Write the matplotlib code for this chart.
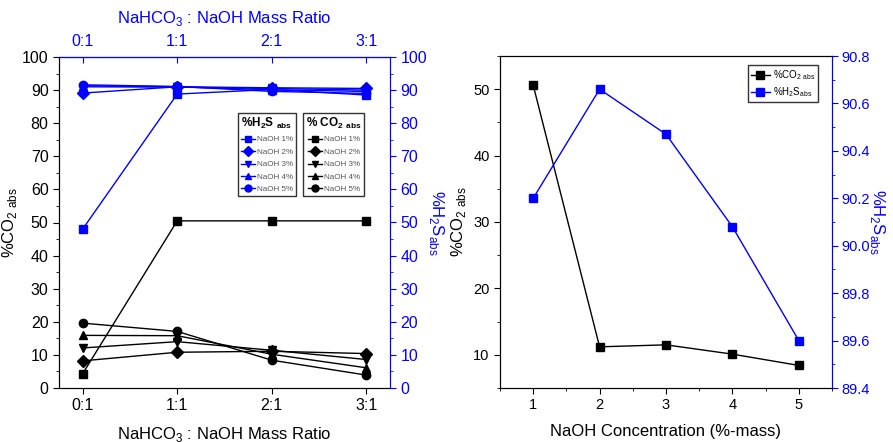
import numpy as np
import matplotlib
matplotlib.use('Agg')
import matplotlib.pyplot as plt
from matplotlib.lines import Line2D
from matplotlib.ticker import MultipleLocator

plt.rcParams['font.family'] = ['Liberation Sans', 'DejaVu Sans']
plt.rcParams['mathtext.fontset'] = 'custom'
plt.rcParams['mathtext.rm'] = 'Liberation Sans'
plt.rcParams['mathtext.bf'] = 'Liberation Sans:bold'

# ---- data ----
ratios = ['0:1', '1:1', '2:1', '3:1']
naoh_labels = ['NaOH 1%', 'NaOH 2%', 'NaOH 3%', 'NaOH 4%', 'NaOH 5%']
markers = ['s', 'D', 'v', '^', 'o']

h2s_ratio = [
    [48.0, 88.8, 90.2, 88.5],
    [89.1, 91.0, 90.7, 90.5],
    [91.0, 90.9, 90.5, 90.0],
    [91.3, 91.0, 90.1, 89.6],
    [91.6, 91.1, 89.6, 89.0],
]
co2_ratio = [
    [4.3, 50.5, 50.5, 50.5],
    [8.2, 10.8, 11.1, 10.4],
    [12.1, 14.0, 11.4, 8.6],
    [15.9, 15.8, 10.2, 6.1],
    [19.6, 17.1, 8.4, 3.9],
]

naoh_conc = [1, 2, 3, 4, 5]
co2_conc = [50.6, 11.2, 11.5, 10.1, 8.4]
h2s_conc = [90.2, 90.66, 90.47, 90.08, 89.6]

blue = '#0000ff'
tick_fs = 11.5
tick_fs2 = 10.5
label_fs = 12
W, H = 893, 442
fig = plt.figure(figsize=(W / 100, H / 100), dpi=100)

# ---------------- left panel ----------------
ax1 = fig.add_axes([59 / W, 1 - 388 / H, 331 / W, 331 / H])
ax1r = ax1.twinx()
x = np.arange(len(ratios))

for vals, m in zip(co2_ratio, markers):
    ax1.plot(x, vals, color='black', marker=m, ms=6, lw=1)
for vals, m in zip(h2s_ratio, markers):
    ax1r.plot(x, vals, color=blue, marker=m, ms=6, lw=1)

for a in (ax1, ax1r):
    a.set_ylim(0, 100)
    a.set_xlim(-0.25, 3.25)
ax1.yaxis.set_major_locator(MultipleLocator(10))
ax1.yaxis.set_minor_locator(MultipleLocator(5))
ax1r.yaxis.set_major_locator(MultipleLocator(10))
ax1r.yaxis.set_minor_locator(MultipleLocator(5))
ax1.set_xticks(x)
ax1.set_xticklabels(ratios)
ax1.tick_params(labelsize=tick_fs, direction='out', length=4, top=False)
ax1.tick_params(which='minor', length=2.5)
ax1r.tick_params(axis='y', colors=blue, labelsize=tick_fs, length=4)
ax1r.tick_params(axis='y', which='minor', colors=blue, length=2.5)
ax1r.spines['right'].set_color(blue)
ax1r.spines['top'].set_color(blue)
ax1.spines['top'].set_color(blue)

ax1t = ax1.secondary_xaxis('top')
ax1t.set_xticks(x)
ax1t.set_xticklabels(ratios)
ax1t.tick_params(colors=blue, labelsize=tick_fs, length=4, direction='in', pad=6)
ax1t.spines['top'].set_color(blue)
ax1t.set_xlabel('NaHCO$_3$ : NaOH Mass Ratio', color=blue, fontsize=label_fs, labelpad=8)

ax1.set_xlabel('NaHCO$_3$ : NaOH Mass Ratio', fontsize=label_fs, labelpad=8)
ax1.set_ylabel('%CO$_{2\\ \\mathrm{abs}}$', fontsize=label_fs, labelpad=2)
ax1r.set_ylabel('%H$_2$S$_{\\mathrm{abs}}$', color=blue, fontsize=label_fs,
                rotation=270, labelpad=14)

h_h2s = [Line2D([], [], color=blue, marker=m, ms=5, lw=1) for m in markers]
h_co2 = [Line2D([], [], color='black', marker=m, ms=5, lw=1) for m in markers]
leg_kw = dict(fontsize=5.8, frameon=True, fancybox=False, edgecolor='black',
              labelcolor='#555555', handlelength=1.8, handletextpad=0.2,
              borderpad=0.35, labelspacing=0.6, borderaxespad=0,
              title_fontproperties={'weight': 'bold', 'size': 8.5})
leg1 = ax1r.legend(h_h2s, naoh_labels, title='%H$_\\mathbf{2}$S $_\\mathbf{abs}$',
                   loc='upper left', bbox_to_anchor=(238 / W, 1 - 113 / H),
                   bbox_transform=fig.transFigure, **leg_kw)
leg1.get_frame().set_linewidth(1)
ax1r.add_artist(leg1)
leg2 = ax1r.legend(h_co2, naoh_labels, title='% CO$_\\mathbf{2}$ $_\\mathbf{abs}$',
                   loc='upper left', bbox_to_anchor=(303 / W, 1 - 113 / H),
                   bbox_transform=fig.transFigure, **leg_kw)
leg2.get_frame().set_linewidth(1)

# ---------------- right panel ----------------
ax2 = fig.add_axes([500 / W, 1 - 388 / H, 332 / W, 332 / H])
ax2r = ax2.twinx()
l1, = ax2.plot(naoh_conc, co2_conc, color='black', marker='s', ms=5.5, lw=1)
l2, = ax2r.plot(naoh_conc, h2s_conc, color=blue, marker='s', ms=5.5, lw=1)

ax2.set_xlim(0.5, 5.5)
ax2.set_ylim(5, 55)
ax2r.set_ylim(89.4, 90.8)
ax2.set_xticks(naoh_conc)
ax2.xaxis.set_minor_locator(MultipleLocator(0.5))
ax2.yaxis.set_major_locator(MultipleLocator(10))
ax2.yaxis.set_minor_locator(MultipleLocator(5))
ax2r.yaxis.set_major_locator(MultipleLocator(0.2))
ax2r.yaxis.set_minor_locator(MultipleLocator(0.1))
ax2r.yaxis.set_major_formatter(plt.FormatStrFormatter('%.1f'))
ax2.tick_params(labelsize=tick_fs2, direction='out', length=4)
ax2.tick_params(which='minor', length=2.5)
ax2r.tick_params(axis='y', colors=blue, labelsize=tick_fs2, length=4, pad=3)
ax2r.tick_params(axis='y', which='minor', colors=blue, length=2.5)
ax2r.spines['right'].set_color(blue)

ax2.set_xlabel('NaOH Concentration (%-mass)', fontsize=label_fs, labelpad=8)
ax2.set_ylabel('%CO$_{2\\ \\mathrm{abs}}$', fontsize=label_fs, labelpad=4)
ax2r.set_ylabel('%H$_2$S$_{\\mathrm{abs}}$', color=blue, fontsize=label_fs,
                rotation=270, labelpad=12)

leg3 = ax2r.legend([l1, l2], ['%CO$_{2\\ \\mathrm{abs}}$', '%H$_2$S$_{\\mathrm{abs}}$'],
                   loc='upper right', bbox_to_anchor=(818 / W, 1 - 65 / H),
                   bbox_transform=fig.transFigure, fontsize=7, frameon=True,
                   fancybox=False, edgecolor='black', handlelength=2.0,
                   handletextpad=0.3, borderpad=0.3, labelspacing=0.4,
                   borderaxespad=0)
leg3.get_frame().set_linewidth(1)

fig.savefig('out.png', dpi=100)
